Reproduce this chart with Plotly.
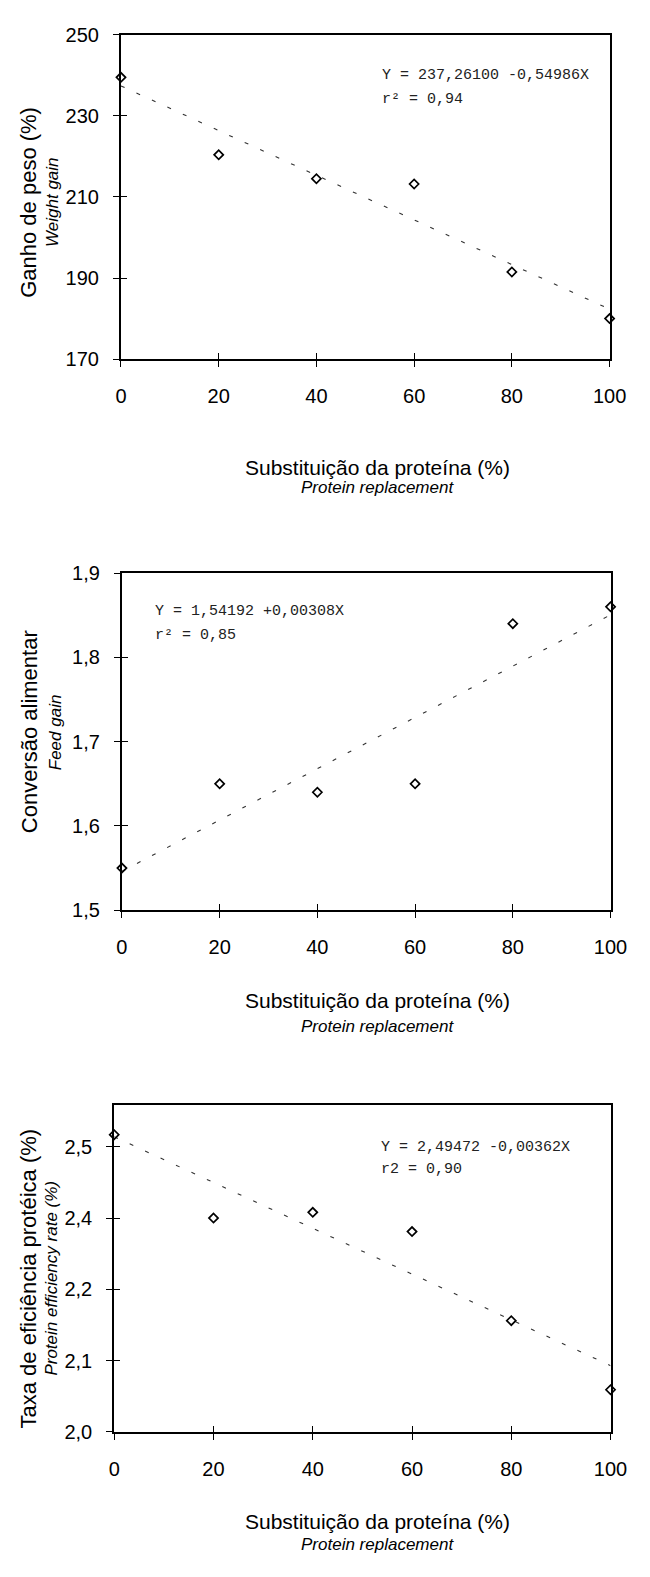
import numpy as np
import plotly.graph_objects as go

W, H = 650, 1577
OFF = 8  # default body margin of the html page
WF, HF = W - 2 * OFF, H - 2 * OFF

# substituição da proteína (%)
replacement = [0, 20, 40, 60, 80, 100]

# ganho de peso (%)
weight_gain = [239.5, 220.4, 214.5, 213.2, 191.5, 180.0]
# conversão alimentar
feed_conv = [1.55, 1.65, 1.64, 1.65, 1.84, 1.86]
# taxa de eficiência protéica (axis units, labels below are as printed)
per = [2.417, 2.300, 2.308, 2.281, 2.156, 2.059]

wg_ticks = [170, 190, 210, 230, 250]
fc_ticks = [1.5, 1.6, 1.7, 1.8, 1.9]
fc_ticktext = ["1,5", "1,6", "1,7", "1,8", "1,9"]
per_ticks = [2.0, 2.1, 2.2, 2.3, 2.4]
per_ticktext = ["2,0", "2,1", "2,2", "2,4", "2,5"]

eq_text = [
    ("Y = 237,26100 -0,54986X", "r² = 0,94"),
    ("Y = 1,54192 +0,00308X", "r² = 0,85"),
    ("Y = 2,49472 -0,00362X", "r2 = 0,90"),
]
ytitles = [
    ("Ganho de peso (%)", "Weight gain"),
    ("Conversão alimentar", "Feed gain"),
    ("Taxa de eficiência protéica (%)", "Protein efficiency rate (%)"),
]

FONT = "Liberation Sans, Arial, sans-serif"
MONO = "Liberation Mono, Courier New, monospace"


def px_x(p):
    return (p - OFF) / WF


def px_y(p):
    return 1 - (p - OFF) / HF


# panel boxes in screen pixels: (left, right, top, bottom)
boxes = [(119, 626, 24, 353), (120, 627, 570, 912), (112, 627, 1110, 1441)]
yranges = [[170, 250], [1.5, 1.9], [2.0, 2.458]]
series = [weight_gain, feed_conv, per]
yticks = [(wg_ticks, [str(t) for t in wg_ticks]), (fc_ticks, fc_ticktext), (per_ticks, per_ticktext)]
# equation positions in screen pixels (left, line1, line2)
eq_pos = [(388, 65, 90), (152, 609, 633), (387, 1153, 1175)]
ytitle_x = [(23, 48), (24, 51), (23, 46)]
ytitle_y = [194, 731, 1285]
xtitle_y = [(463, 483), (1004, 1030), (1532, 1555)]

fig = go.Figure()
annotations = []

for i in range(3):
    n = i + 1
    xa = "x" if n == 1 else f"x{n}"
    ya = "y" if n == 1 else f"y{n}"
    left, right, top, bottom = boxes[i]
    vals = series[i]

    # regression line
    b, a = np.polyfit(replacement, vals, 1)
    xl = np.array([0, 100])
    fig.add_trace(go.Scatter(
        x=xl, y=a + b * xl, mode="lines", xaxis=xa, yaxis=ya,
        line=dict(color="#333", width=1.1, dash="4px,13px"),
        showlegend=False, hoverinfo="skip",
    ))
    fig.add_trace(go.Scatter(
        x=replacement, y=vals, mode="markers", xaxis=xa, yaxis=ya,
        marker=dict(symbol="diamond-open", size=7, color="black",
                    line=dict(width=1.7, color="black")),
        cliponaxis=False, showlegend=False,
    ))

    axfont = dict(family=FONT, size=20, color="black")
    common = dict(showline=True, linecolor="black", linewidth=2, mirror=True,
                  showgrid=False, zeroline=False, ticks="outside", ticklen=6,
                  tickwidth=1, tickcolor="black", tickfont=axfont,
                  ticklabeloverflow="allow")
    fig.layout[f"xaxis{'' if n == 1 else n}"] = dict(
        common, domain=[px_x(left), px_x(right)], anchor=ya, range=[0, 100],
        tickvals=replacement, ticklabelstandoff=12)
    fig.layout[f"yaxis{'' if n == 1 else n}"] = dict(
        common, domain=[px_y(bottom), px_y(top)], anchor=xa, range=yranges[i],
        tickvals=yticks[i][0], ticktext=yticks[i][1], ticklabelstandoff=10)

    # overlay axes for the inner half of the crossing tick marks
    ox, oy = f"x{n + 3}", f"y{n + 3}"
    inner = dict(showline=False, showgrid=False, zeroline=False, ticks="inside",
                 ticklen=6, tickwidth=1, tickcolor="black", showticklabels=False)
    fig.layout[f"xaxis{n + 3}"] = dict(inner, overlaying=xa, anchor=ya,
                                       range=[0, 100], tickvals=replacement)
    fig.layout[f"yaxis{n + 3}"] = dict(inner, overlaying=ya, anchor=xa,
                                       range=yranges[i], tickvals=yticks[i][0])
    fig.add_trace(go.Scatter(x=replacement, y=vals, xaxis=ox, yaxis=ya, mode="markers",
                             marker=dict(opacity=0), showlegend=False, hoverinfo="skip"))
    fig.add_trace(go.Scatter(x=replacement, y=vals, xaxis=xa, yaxis=oy, mode="markers",
                             marker=dict(opacity=0), showlegend=False, hoverinfo="skip"))

    # regression equation
    ex, ey1, ey2 = eq_pos[i]
    for txt, yy in ((eq_text[i][0], ey1), (eq_text[i][1], ey2)):
        annotations.append(dict(
            text=txt, x=px_x(ex), y=px_y(yy), xref="paper", yref="paper",
            xanchor="left", yanchor="middle", showarrow=False,
            font=dict(family=MONO, size=15, color="#222")))

    # y titles
    cy = ytitle_y[i]
    annotations.append(dict(
        text=ytitles[i][0], x=px_x(ytitle_x[i][0]), y=px_y(cy), xref="paper", yref="paper",
        textangle=-90, showarrow=False, xanchor="center", yanchor="middle",
        font=dict(family=FONT, size=22, color="black")))
    annotations.append(dict(
        text=f"<i>{ytitles[i][1]}</i>", x=px_x(ytitle_x[i][1]), y=px_y(cy),
        xref="paper", yref="paper", textangle=-90, showarrow=False,
        xanchor="center", yanchor="middle",
        font=dict(family=FONT, size=17, color="black")))

    # x titles
    annotations.append(dict(
        text="Substituição da proteína (%)", x=px_x(385), y=px_y(xtitle_y[i][0]),
        xref="paper", yref="paper", showarrow=False, xanchor="center", yanchor="middle",
        font=dict(family=FONT, size=21, color="black")))
    annotations.append(dict(
        text="<i>Protein replacement</i>", x=px_x(385), y=px_y(xtitle_y[i][1]),
        xref="paper", yref="paper", showarrow=False, xanchor="center", yanchor="middle",
        font=dict(family=FONT, size=17, color="black")))

fig.update_layout(
    width=WF, height=HF,
    margin=dict(l=0, r=0, t=0, b=0),
    paper_bgcolor="white", plot_bgcolor="white",
    showlegend=False,
    annotations=annotations,
)

fig.write_html("out.html", config={"displayModeBar": False})
